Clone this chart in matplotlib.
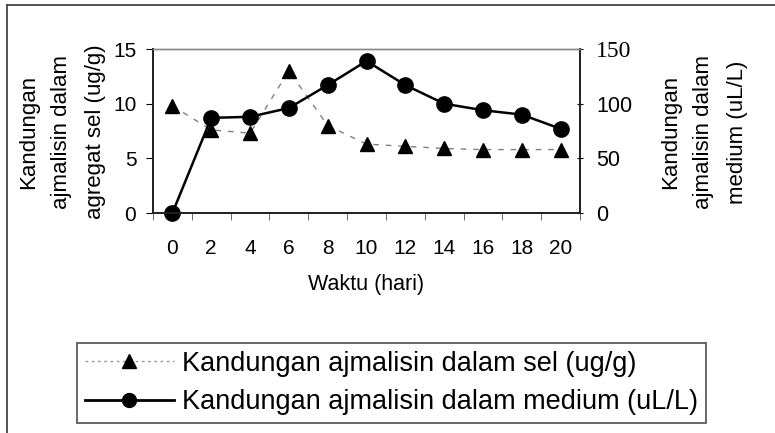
import matplotlib
matplotlib.use("Agg")
import matplotlib.pyplot as plt
from matplotlib.lines import Line2D
import numpy as np

days = ["0", "2", "4", "6", "8", "10", "12", "14", "16", "18", "20"]
sel = [9.8, 7.6, 7.3, 13.0, 8.0, 6.3, 6.1, 5.9, 5.8, 5.8, 5.8]
medium = [0, 87, 88, 96, 117, 139, 117, 100, 94, 90, 77]
left_ticks = [0, 5, 10, 15]
right_ticks = [0, 50, 100, 150]

plt.rcParams['font.family'] = ['Liberation Sans', 'DejaVu Sans']

W, H = 775, 433
fig = plt.figure(figsize=(W / 100, H / 100), dpi=100)
fig.patch.set_facecolor('white')

ax = fig.add_axes([153 / W, 1 - 213 / H, (580 - 153) / W, (213 - 49) / H])
ax2 = ax.twinx()

ax.plot(days, sel, linestyle=(0, (4, 5)), color='#808080', linewidth=1.0,
        marker='^', markersize=10.5, markerfacecolor='black', markeredgecolor='black', clip_on=False)
ax2.plot(days, medium, linestyle='-', color='black', linewidth=1.8,
         marker='o', markersize=11, markerfacecolor='black', markeredgecolor='black', clip_on=False)

ax.set_xlim(-0.5, len(days) - 0.5)
ax.set_ylim(0, 15)
ax2.set_ylim(0, 150)
ax.set_yticks(left_ticks)
ax2.set_yticks(right_ticks)
ax.set_yticklabels([str(t) for t in left_ticks], fontsize=15)
rl = ax2.set_yticklabels([str(t) for t in right_ticks], fontsize=15.5)
rl[-1].set_family(['Liberation Serif'])
rl[-1].set_fontsize(17)

ax.set_xticks(range(len(days)))
ax.set_xticklabels(days, fontsize=15)
ax.tick_params(axis='x', which='major', length=0, pad=19)
ax.set_xticks(np.arange(-0.5, len(days), 1.0), minor=True)
ax.tick_params(axis='x', which='minor', length=5, direction='out', color='#555555')
ax.tick_params(axis='y', length=5, direction='out', pad=7)
ax2.tick_params(axis='y', length=5, direction='inout', pad=9)

for a in (ax, ax2):
    for s in a.spines.values():
        s.set_linewidth(1.3)
        s.set_color('#222222')
    a.spines['top'].set_color('#888888')
    a.spines['top'].set_linewidth(1.0)

ax.set_xlabel("Waktu (hari)", fontsize=15.5, labelpad=11)

fig.text(62 / W, 1 - 132 / H, "Kandungan\najmalisin dalam\nagregat sel (ug/g)",
         rotation=90, ha='center', va='center', fontsize=16, linespacing=1.75)
fig.text(704 / W, 1 - 132 / H, "Kandungan\najmalisin dalam\nmedium (uL/L)",
         rotation=90, ha='center', va='center', fontsize=16, linespacing=1.75)

# outer frame (left and top edges)
fig.add_artist(plt.Line2D([7 / W, 7 / W], [1 - 5 / H, 0.0], transform=fig.transFigure, color='#444444', lw=1.3))
fig.add_artist(plt.Line2D([7 / W, 1.0], [1 - 5 / H, 1 - 5 / H], transform=fig.transFigure, color='#444444', lw=1.3))

handles = [
    Line2D([], [], linestyle=(0, (2, 2.5)), color='#999999', linewidth=1.0, marker='^',
           markersize=10, markerfacecolor='black', markeredgecolor='black'),
    Line2D([], [], linestyle='-', color='black', linewidth=2.0, marker='o',
           markersize=10, markerfacecolor='black', markeredgecolor='black'),
]
labels = ["Kandungan ajmalisin dalam sel (ug/g)", "Kandungan ajmalisin dalam medium (uL/L)"]
leg = fig.legend(handles, labels, loc='center', bbox_to_anchor=((76 + 707) / 2 / W, 1 - (339 + 427) / 2 / H),
                 fontsize=19.5, frameon=True, fancybox=False, edgecolor='#333333', handlelength=3.3,
                 handletextpad=0.3, borderpad=0.3, labelspacing=0.45, borderaxespad=0)
leg.get_frame().set_linewidth(1.3)

fig.savefig("out.png", dpi=100)
